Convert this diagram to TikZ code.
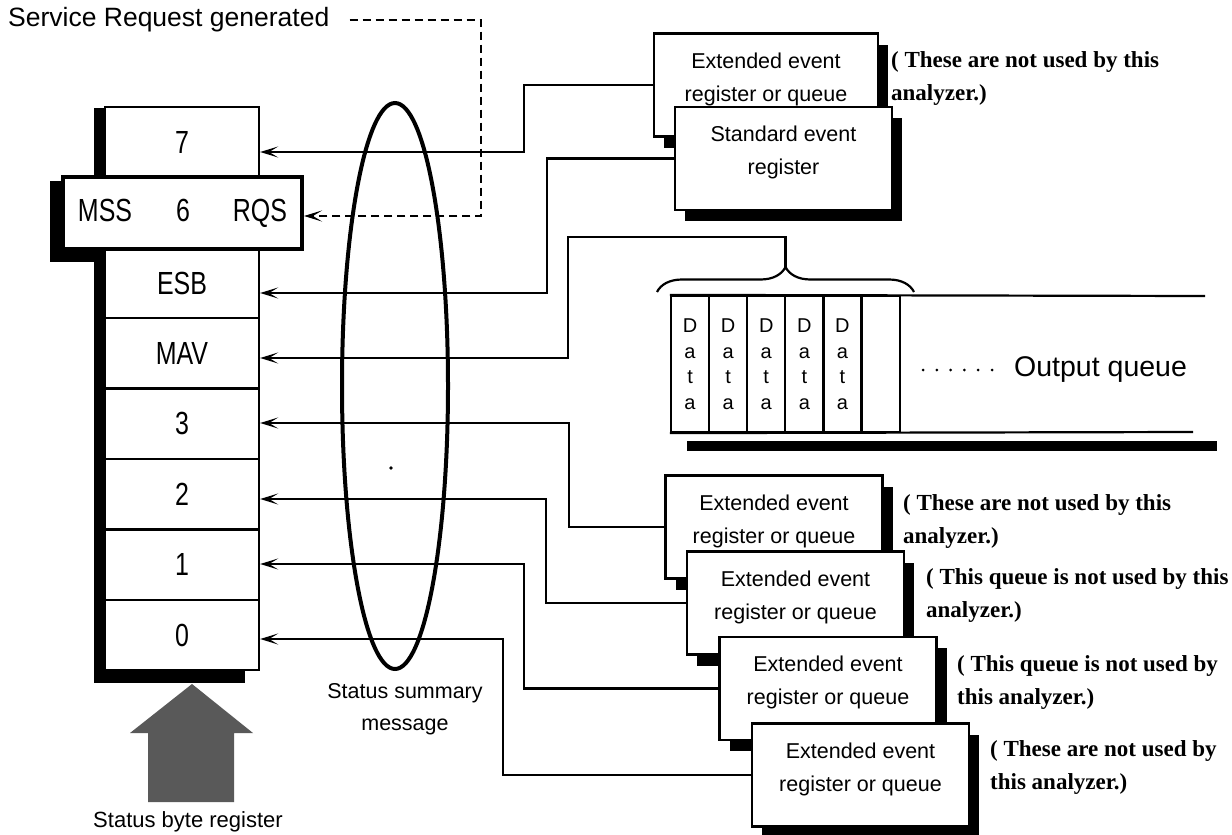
\documentclass[tikz,border=0pt]{standalone}
\usepackage{fontspec}
\setmainfont{Liberation Sans}
\newfontfamily\regfont[FakeStretch=0.78]{Liberation Sans}
\newfontfamily\notefont{Liberation Serif}
\usetikzlibrary{arrows.meta,calc,shadows,decorations.pathreplacing,backgrounds}

%% two centred lines, lifted a little inside their box
\newcommand{\evtext}[2]{\raisebox{7pt}[\height][\depth]{%
  \begin{tabular}{@{}c@{}}#1\\#2\end{tabular}}}

\begin{document}
\begin{tikzpicture}
[x=1pt,y=-1pt,
  rowDecorate/.style={draw,fill=white,line width=2.3pt,minimum width=154,
    minimum height=70.4,inner sep=0pt,font=\regfont\fontsize{32}{36}\selectfont},%
  srqDecorate/.style={rowDecorate,line width=4pt,minimum width=239,minimum height=72},%
  boxDecorate/.style={draw,fill=white,line width=2.5pt,minimum width=217,
    minimum height=103,inner sep=0pt,font=\fontsize{21.5}{33}\selectfont,
    drop shadow={shadow xshift=10pt,shadow yshift=-11pt,opacity=1,fill=black}},%
  noteDecorate/.style={anchor=west,align=left,inner sep=0pt,
    font=\notefont\bfseries\fontsize{23}{33}\selectfont},%
  cellDecorate/.style={draw,line width=2.2pt,minimum width=38.1,minimum height=136,
    inner sep=0pt,align=center,font=\fontsize{20}{25.5}\selectfont},%
  lineDecorate/.style={line width=2.2pt,-{Stealth[length=18pt,width=11pt,inset=9pt]}},%
  dashDecorate/.style={lineDecorate,dash pattern=on 8pt off 5pt}]
\useasboundingbox (0,0) rectangle (1232,835);

%% status byte register
\foreach \name/\txt/\k in {7/7/0, ESB/ESB/2, MAV/MAV/3, 3/3/4, 2/2/5, 1/1/6, 0/0/7}
{
  \node (bit\name) at (182,142.2+70.4*\k) [rowDecorate] {\txt};
}
\node (bit6) at (182.5,213) [srqDecorate] {MSS\hspace{44pt}6\hspace{43pt}RQS};
\begin{pgfonlayer}{background}
  \fill ($(bit6.north west)+(-11,6)$) rectangle ($(bit6.south west)+(42,11)$);
  \fill ($(bit7.north west)+(-10,2)$) rectangle ($(bit0.south east)+(-15,12)$);
\end{pgfonlayer}
\fill[black!65] (148,802) -- (148,733) -- (130,733) -- (192,684) -- (253,733)
  -- (234,733) -- (234,802) -- cycle;
\node (sbr) at (188,822) [font=\fontsize{22}{26}\selectfont] {Status byte register};

%% service request
\node (srq) at (8,20) [anchor=west,inner sep=0pt,font=\fontsize{26.5}{30}\selectfont]
  {Service Request generated};
\draw[dashDecorate] ([xshift=20pt]srq.east) -| (481,216) coordinate (srqBend)
  -- (bit6.east |- srqBend);

%% event registers and queues
\node (extA) at (766,85) [boxDecorate,minimum width=224] {\evtext{Extended event}{register or queue}};
\node (stdB) at (783.5,158.5) [boxDecorate] {\evtext{Standard event}{register}};
\foreach \name/\x/\y in {extC/774/527, extD/795.5/603, extE/828/688.5, extF/860.5/775}
{
  \node (\name) at (\x,\y) [boxDecorate] {\evtext{Extended event}{register or queue}};
}
\node (noteA) at (891,79) [noteDecorate] {( These are not used by this\\analyzer.)};
\node (noteC) at (903,521) [noteDecorate] {( These are not used by this\\analyzer.)};
\node (noteD) at (926,595.5) [noteDecorate] {( This queue is not used by this\\analyzer.)};
\node (noteE) at (957,682) [noteDecorate] {( This queue is not used by\\this analyzer.)};
\node (noteF) at (990,767.5) [noteDecorate] {( These are not used by\\this analyzer.)};

%% output queue
\foreach \i in {0,...,4}
{
  \node (cell\i) at (690.05+38.1*\i,364) [cellDecorate] {D\\a\\t\\a};
}
\node (cell5) at (880.55,364) [cellDecorate] {};
\draw[line width=2.2pt] (cell0.north west) -- (1205,296)
  (cell0.south west) -- (1193,432);
\fill (687,441) rectangle (1217,451);
\foreach \i in {0,...,5}
  \fill (923+13.8*\i,370) circle [radius=1.5];
\node (oq) at (1014,370) [anchor=west,inner sep=0pt,font=\fontsize{28.5}{32}\selectfont]
  {Output queue};
\draw[line width=2.2pt,decorate,decoration={brace,amplitude=25pt}] (657,292) -- (914,292);
\coordinate (braceTip) at (785.5,267);

%% summary lines
\foreach \from/\xv/\yv/\to in {extA/524/152/bit7, stdB/547/293/bitESB,
  extC/569/423/bit3, extD/546/499/bit2, extE/524/564/bit1, extF/503/639/bit0}
{
  \draw[lineDecorate] (\from.west) -| (\xv,\yv) coordinate (bend) -- (\to.east |- bend);
}
\draw[lineDecorate] (braceTip) |- (568,237) -- (568,358) coordinate (mavBend)
  -- (bitMAV.east |- mavBend);

%% status summary message
\draw[line width=4pt] (395,386) ellipse [x radius=53, y radius=283];
\fill (391,468) circle [radius=1.8];
\node (ssm) at (405,709) [align=center,font=\fontsize{21.5}{32}\selectfont]
  {Status summary\\message};
\end{tikzpicture}
\end{document}
